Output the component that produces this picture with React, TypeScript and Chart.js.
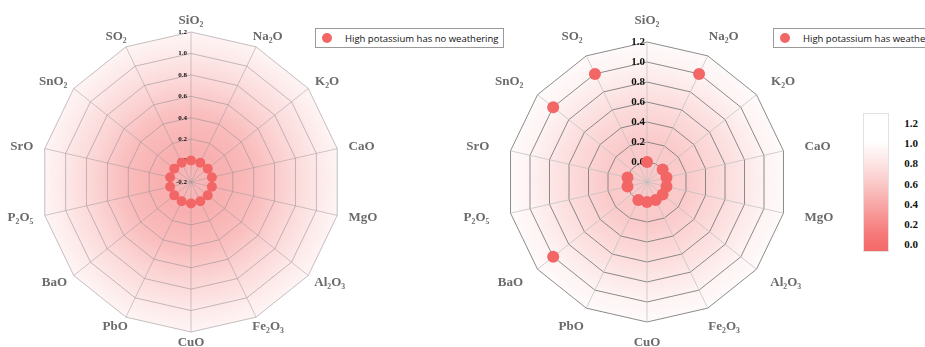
import { useEffect, useRef } from 'react';
import { Chart, registerables } from 'chart.js';

Chart.register(...registerables);

// ---------- data ----------
const categories = ['SiO₂', 'Na₂O', 'K₂O', 'CaO', 'MgO', 'Al₂O₃', 'Fe₂O₃', 'CuO', 'PbO', 'BaO', 'P₂O₅', 'SrO', 'SnO₂', 'SO₂'];
const noWeatheringValues = [0, 0, 0, 0, 0, 0, 0, 0, 0, 0, 0, 0, 0, 0];
const weatheredValues = [0, 1.0, 0, 0, 0, 0, 0, 0, 0, 1.0, 0, 0, 1.0, 1.0];
const seriesNames = ['High potassium has no weathering', 'High potassium has weathered'];
const radialMin = -0.2;
const radialMax = 1.2;
const radialStep = 0.2;
const colorbarTicks = ['1.2', '1.0', '0.8', '0.6', '0.4', '0.2', '0.0'];

const POINT_COLOR = 'rgb(242,102,102)';

const radarDecor = {
  id: 'radarDecor',
  beforeDraw(chart: any, _args: any, opts: any) {
    const s = chart.scales.r;
    const ctx = chart.ctx;
    const n = chart.data.labels.length;
    const R = s.drawingArea;
    ctx.save();
    ctx.beginPath();
    for (let i = 0; i < n; i++) {
      const p = s.getPointPosition(i, R);
      if (i === 0) ctx.moveTo(p.x, p.y);
      else ctx.lineTo(p.x, p.y);
    }
    ctx.closePath();
    const g = ctx.createRadialGradient(s.xCenter, s.yCenter, 0, s.xCenter, s.yCenter, R);
    (opts.stops || []).forEach((st: [number, string]) => g.addColorStop(st[0], st[1]));
    ctx.fillStyle = g;
    ctx.fill();
    ctx.restore();
  },
  beforeDatasetsDraw(chart: any, _args: any, opts: any) {
    const s = chart.scales.r;
    const ctx = chart.ctx;
    ctx.save();
    // radial tick labels
    ctx.font = opts.tickFont;
    ctx.fillStyle = '#111';
    ctx.textAlign = 'right';
    ctx.textBaseline = 'middle';
    s.ticks.forEach((t: any, i: number) => {
      if (i === 0 && !opts.centerLabel) return;
      const v = Math.abs(t.value) < 1e-9 ? 0 : t.value;
      const d = s.getDistanceFromCenterForValue(t.value);
      ctx.fillText(Number(v).toFixed(1), s.xCenter - opts.tickOffset, s.yCenter - d);
    });
    // point labels
    ctx.font = opts.labelFont;
    ctx.fillStyle = opts.labelColor;
    ctx.textAlign = 'center';
    ctx.textBaseline = 'middle';
    chart.data.labels.forEach((lab: string, i: number) => {
      const p = s.getPointPosition(i, opts.labelRadius);
      const ang = s.getIndexAngle(i);
      const w = ctx.measureText(lab).width;
      const x = p.x + Math.sin(ang) * (w / 2 + opts.labelExtraX);
      const y = p.y - Math.cos(ang) * opts.labelHalfH;
      ctx.fillText(lab, x, y);
    });
    ctx.restore();
  },
};

type RadarProps = {
  values: number[];
  name: string;
  left: number;
  width: number;
  height: number;
  padding: { left: number; right: number; top: number; bottom: number };
  pointRadius: number;
  gridColor: string;
  angleColor: string;
  stops: [number, string][];
  tickFont: string;
  tickOffset: number;
  centerLabel: boolean;
  labelRadius: number;
};

function Radar(props: RadarProps) {
  const ref = useRef<HTMLCanvasElement | null>(null);
  useEffect(() => {
    if (!ref.current) return;
    const chart = new Chart(ref.current, {
      type: 'radar',
      data: {
        labels: categories,
        datasets: [
          {
            label: props.name,
            data: props.values,
            showLine: false,
            fill: false,
            pointRadius: props.pointRadius,
            pointHoverRadius: props.pointRadius,
            pointBackgroundColor: POINT_COLOR,
            pointBorderColor: POINT_COLOR,
            pointBorderWidth: 0,
            borderWidth: 0,
          },
        ],
      },
      options: {
        responsive: false,
        animation: false,
        events: [],
        layout: { padding: props.padding },
        plugins: {
          legend: { display: false },
          tooltip: { enabled: false },
          radarDecor: {
            stops: props.stops,
            tickFont: props.tickFont,
            tickOffset: props.tickOffset,
            centerLabel: props.centerLabel,
            labelFont: 'bold 13px "Liberation Serif", serif',
            labelColor: '#6a6a6a',
            labelRadius: props.labelRadius,
            labelHalfH: 6,
            labelExtraX: 7,
          },
        } as any,
        scales: {
          r: {
            min: radialMin,
            max: radialMax,
            ticks: { stepSize: radialStep, display: false },
            pointLabels: { display: false },
            grid: { color: props.gridColor, lineWidth: 1 },
            angleLines: { color: props.angleColor, lineWidth: 1 },
          },
        },
      },
      plugins: [radarDecor],
    });
    return () => chart.destroy();
  }, []);
  return (
    <canvas
      ref={ref}
      width={props.width}
      height={props.height}
      style={{ position: 'absolute', left: props.left, top: 0, width: props.width, height: props.height }}
    />
  );
}

function LegendBox({ left, text, width }: { left: number; text: string; width: number }) {
  return (
    <div
      style={{
        position: 'absolute',
        left,
        top: 28,
        width,
        height: 18,
        border: '1px solid #9a9a9a',
        background: '#fff',
        display: 'flex',
        alignItems: 'center',
        fontFamily: '"Open Sans", "Noto Sans", sans-serif',
        fontSize: 9.5,
        color: '#111',
        whiteSpace: 'nowrap',
        zIndex: 2,
      }}
    >
      <span
        style={{
          display: 'inline-block',
          width: 10,
          height: 10,
          borderRadius: 5,
          background: POINT_COLOR,
          marginLeft: 6,
          marginRight: 13,
          flex: '0 0 auto',
        }}
      />
      <span>{text}</span>
    </div>
  );
}

function ColorBar() {
  return (
    <>
      <div
        style={{
          position: 'absolute',
          left: 863,
          top: 113,
          width: 24,
          height: 137,
          border: '1px solid #e2e2e2',
          background:
            'linear-gradient(to bottom, #ffffff 0%, #ffffff 20%, rgb(252,212,212) 45%, rgb(249,170,170) 65%, rgb(246,120,120) 88%, rgb(245,105,105) 100%)',
          zIndex: 2,
        }}
      />
      {colorbarTicks.map((t, i) => (
        <div
          key={t}
          style={{
            position: 'absolute',
            left: 898,
            width: 26,
            textAlign: 'center',
            top: 123 + i * 20.2 - 7,
            height: 14,
            lineHeight: '14px',
            fontFamily: '"Liberation Serif", serif',
            fontWeight: 'bold',
            fontSize: 11,
            color: '#111',
            zIndex: 2,
          }}
        >
          {t}
        </div>
      ))}
    </>
  );
}

export default function App() {
  return (
    <div
      style={{
        position: 'fixed',
        left: 0,
        top: 0,
        width: 925,
        height: 347,
        overflow: 'hidden',
        background: '#fff',
      }}
    >
      <Radar
        values={noWeatheringValues}
        name={seriesNames[0]}
        left={0}
        width={382}
        height={364}
        padding={{ left: 41, right: 41, top: 32, bottom: 32 }}
        pointRadius={5}
        gridColor="rgba(150,140,145,0.55)"
        angleColor="rgba(160,150,155,0.5)"
        stops={[
          [0, 'rgba(243,110,110,0.48)'],
          [0.2, 'rgba(243,110,110,0.55)'],
          [0.45, 'rgba(243,110,110,0.45)'],
          [0.67, 'rgba(243,110,110,0.28)'],
          [0.9, 'rgba(243,110,110,0.12)'],
          [1, 'rgba(243,110,110,0.07)'],
        ]}
        tickFont='bold 7px "Liberation Serif", serif'
        tickOffset={4}
        centerLabel={true}
        labelRadius={155}
      />
      <Radar
        values={weatheredValues}
        name={seriesNames[1]}
        left={447}
        width={400}
        height={364}
        padding={{ left: 60, right: 60, top: 42, bottom: 42 }}
        pointRadius={6}
        gridColor="rgba(120,120,120,0.85)"
        angleColor="rgba(190,190,190,0.7)"
        stops={[
          [0, 'rgba(243,110,110,0.38)'],
          [0.3, 'rgba(243,110,110,0.36)'],
          [0.6, 'rgba(243,110,110,0.22)'],
          [0.85, 'rgba(243,110,110,0.08)'],
          [1, 'rgba(243,110,110,0.03)'],
        ]}
        tickFont='bold 11px "Liberation Serif", serif'
        tickOffset={2}
        centerLabel={false}
        labelRadius={155}
      />
      <LegendBox left={315} width={187} text={seriesNames[0]} />
      <LegendBox left={773} width={200} text={seriesNames[1]} />
      <ColorBar />
    </div>
  );
}
